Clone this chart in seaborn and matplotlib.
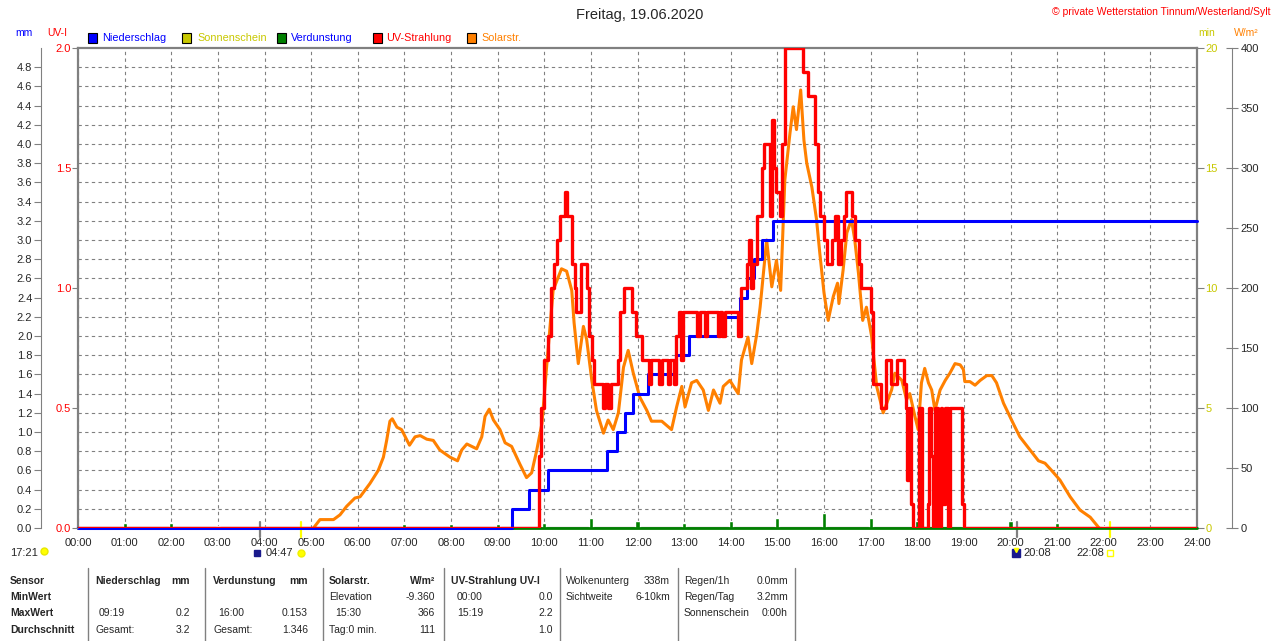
import matplotlib
matplotlib.use("Agg")
import matplotlib.pyplot as plt
import seaborn as sns
from matplotlib.patches import Rectangle
from matplotlib.lines import Line2D

# ---- data (time in hours) ----
rain_time = [0, 9.30, 9.68, 10.07, 11.34, 11.55, 11.73, 11.91, 12.22, 12.83,
             13.11, 13.85, 14.20, 14.35, 14.50, 14.68, 14.91, 24]
rain_mm = [0, 0.2, 0.4, 0.6, 0.8, 1.0, 1.2, 1.4, 1.6, 1.8,
           2.0, 2.2, 2.4, 2.6, 2.8, 3.0, 3.2, 3.2]

uv_time = [0, 9.89, 9.93, 10.00, 10.08, 10.14, 10.21, 10.27, 10.33, 10.44,
           10.49, 10.60, 10.65, 10.69, 10.78, 10.91, 10.96, 11.02, 11.07, 11.25,
           11.31, 11.36, 11.44, 11.58, 11.62, 11.70, 11.89, 11.96, 12.10, 12.24,
           12.29, 12.47, 12.52, 12.66, 12.70, 12.78, 12.82, 12.88, 12.93, 12.97,
           13.28, 13.33, 13.45, 13.50, 13.72, 13.78, 13.82, 13.87, 14.16, 14.22,
           14.34, 14.39, 14.43, 14.47, 14.56, 14.66, 14.72, 14.84, 14.88, 14.93,
           14.98, 15.05, 15.10, 15.17, 15.56, 15.66, 15.80, 15.87, 15.92, 15.99,
           16.06, 16.17, 16.24, 16.29, 16.36, 16.43, 16.48, 16.61, 16.67, 16.75,
           16.80, 17.01, 17.05, 17.22, 17.32, 17.43, 17.57, 17.72, 17.75, 17.79,
           17.83, 17.86, 17.90, 18.04, 18.11, 18.22, 18.26, 18.30, 18.34, 18.38,
           18.45, 18.50, 18.54, 18.59, 18.65, 18.70, 18.97, 19.01, 24]
uv_index = [0, 0.3, 0.5, 0.7, 0.8, 1.0, 1.1, 1.2, 1.3, 1.4,
            1.3, 1.1, 1.0, 0.9, 1.1, 1.0, 0.8, 0.7, 0.6, 0.5,
            0.6, 0.5, 0.6, 0.7, 0.9, 1.0, 0.9, 0.8, 0.7, 0.6,
            0.7, 0.6, 0.7, 0.6, 0.7, 0.6, 0.8, 0.9, 0.7, 0.9,
            0.8, 0.9, 0.8, 0.9, 0.8, 0.9, 0.8, 0.9, 0.8, 1.0,
            1.1, 1.2, 1.0, 1.1, 1.3, 1.5, 1.6, 1.3, 1.7, 1.5,
            1.4, 1.3, 1.6, 2.0, 1.9, 1.8, 1.6, 1.4, 1.3, 1.2,
            1.1, 1.2, 1.3, 1.1, 1.2, 1.3, 1.4, 1.3, 1.2, 1.1,
            1.0, 0.9, 0.6, 0.5, 0.7, 0.6, 0.7, 0.6, 0.5, 0.2,
            0.5, 0.1, 0.0, 0.5, 0.0, 0.1, 0.5, 0.3, 0.0, 0.5,
            0.0, 0.5, 0.1, 0.5, 0.0, 0.5, 0.1, 0.0, 0]

solar_time = [5.05, 5.19, 5.48, 5.62, 5.76, 5.94, 6.05, 6.26, 6.44, 6.55,
              6.62, 6.69, 6.74, 6.84, 6.94, 7.11, 7.23, 7.34, 7.48, 7.62,
              7.76, 7.98, 8.14, 8.23, 8.34, 8.55, 8.66, 8.73, 8.82, 8.91,
              9.05, 9.16, 9.30, 9.48, 9.62, 9.73, 9.84, 9.95, 10.05, 10.19,
              10.37, 10.48, 10.59, 10.64, 10.73, 10.84, 10.91, 11.02, 11.12, 11.27,
              11.37, 11.48, 11.59, 11.70, 11.80, 11.91, 12.05, 12.20, 12.30, 12.52,
              12.73, 12.84, 12.95, 13.02, 13.16, 13.27, 13.41, 13.52, 13.63, 13.77,
              13.84, 13.98, 14.16, 14.23, 14.37, 14.45, 14.56, 14.63, 14.77, 14.88,
              14.98, 15.07, 15.16, 15.27, 15.34, 15.41, 15.50, 15.57, 15.63, 15.74,
              15.84, 15.91, 16.00, 16.09, 16.20, 16.29, 16.32, 16.41, 16.49, 16.59,
              16.66, 16.74, 16.83, 16.91, 17.02, 17.13, 17.27, 17.45, 17.52, 17.67,
              17.77, 17.84, 17.95, 18.02, 18.09, 18.16, 18.24, 18.31, 18.38, 18.49,
              18.60, 18.70, 18.81, 18.92, 18.99, 19.02, 19.13, 19.24, 19.35, 19.49,
              19.60, 19.70, 19.85, 20.06, 20.20, 20.42, 20.60, 20.74, 20.88, 21.06,
              21.28, 21.49, 21.71, 21.86, 21.90]
solar_wm2 = [0, 7, 7, 11, 18, 25, 26, 37, 48, 59,
             73, 89, 91, 84, 82, 69, 76, 77, 74, 73,
             65, 59, 56, 65, 70, 66, 76, 93, 99, 90,
             82, 71, 68, 53, 42, 46, 65, 87, 134, 198,
             216, 214, 198, 171, 137, 168, 157, 123, 98, 79,
             90, 82, 96, 134, 148, 129, 109, 98, 89, 89,
             82, 101, 118, 101, 121, 123, 115, 98, 115, 104,
             118, 123, 112, 140, 159, 137, 162, 184, 240, 201,
             223, 198, 290, 329, 351, 332, 365, 323, 304, 284,
             257, 229, 196, 173, 193, 204, 187, 215, 246, 257,
             240, 212, 173, 184, 160, 118, 96, 115, 129, 123,
             107, 112, 93, 82, 121, 133, 121, 115, 98, 115,
             123, 129, 137, 136, 132, 122, 122, 119, 123, 127,
             127, 121, 104, 87, 76, 65, 56, 54, 48, 40,
             26, 15, 9, 2, 0]

evap_hour = list(range(1, 23))
evap_mm = [0.05, 0.05, 0.02, 0.01, 0.0, 0.01, 0.04, 0.04, 0.04, 0.05, 0.10,
           0.07, 0.05, 0.07, 0.10, 0.153, 0.10, 0.07, 0.07, 0.07, 0.05, 0.02]

hour_labels = [f"{h:02d}:00" for h in range(25)]
mm_ticks = [round(i * 0.2, 1) for i in range(25)]
uv_ticks = [0, 0.5, 1.0, 1.5, 2.0]
min_ticks = [0, 5, 10, 15, 20]
wm2_ticks = list(range(0, 401, 50))

sun_times = [4.78, 22.13]
moon_times = [3.90, 20.13]

W, H = 1280, 641
L, R, T, B = 78, 1197, 48, 528


def fx(px):
    return px / W


def fy(py):
    return 1 - py / H


def ay(py):
    # pixel row -> axes fraction
    return (B - py) / (B - T)


def hx(px):
    # pixel column -> hours
    return (px - L) / (R - L) * 24


sns.set_style("white")
plt.rcParams['font.family'] = ['Liberation Sans', 'DejaVu Sans']
plt.rcParams['font.size'] = 7.5

GRAY = '#808080'
BLUE = '#0000ff'
RED = '#ff0000'
ORANGE = '#ff8000'
GREEN = '#008000'
OLIVE = '#c8c800'

fig = plt.figure(figsize=(W / 100, H / 100), dpi=100)
ax = fig.add_axes([fx(L), fy(B), (R - L) / W, (B - T) / H])
ax_w = ax.twinx()
ax_mm = ax.twinx()
ax_uv = ax.twinx()
for i, a in enumerate([ax, ax_w, ax_mm, ax_uv]):
    a.set_zorder(i)

# series
sns.lineplot(x=solar_time, y=solar_wm2, ax=ax_w, color=ORANGE, lw=2.2,
             estimator=None, sort=False)
ax_mm.bar(evap_hour, evap_mm, width=0.09, color=GREEN, zorder=2)
ax_mm.axhline(0, color=GREEN, lw=2, clip_on=False, zorder=2)
sns.lineplot(x=rain_time, y=rain_mm, ax=ax_mm, color=BLUE, lw=2.2,
             drawstyle='steps-post', estimator=None, sort=False)
ax_mm.lines[-1].set_clip_on(False)
sns.lineplot(x=uv_time, y=uv_index, ax=ax_uv, color=RED, lw=2.4,
             drawstyle='steps-post', estimator=None, sort=False)

# base axes: grid, hours, minutes (Sonnenschein)
ax.set_facecolor('white')
ax.set_xlim(0, 24)
ax.set_ylim(0, 20)
ax.set_xticks(range(25))
ax.set_xticklabels(hour_labels)
ax.yaxis.tick_right()
ax.set_yticks(min_ticks)
ax.set_yticklabels([str(v) for v in min_ticks], color=OLIVE)
ax.set_yticks([i * 0.8 for i in range(26)], minor=True)
ax.tick_params(axis='y', which='minor', length=0)
ax.tick_params(axis='y', which='major', length=5, color=GRAY, pad=1, labelsize=8)
ax.tick_params(axis='x', length=4, color=GRAY, pad=3, labelsize=8)
ax.grid(axis='x', which='major', color=GRAY, ls=(0, (3, 3)), lw=0.8)
ax.grid(axis='y', which='minor', color=GRAY, ls=(0, (3, 3)), lw=0.8)
ax.grid(visible=False, axis='y', which='major')
for s in ax.spines.values():
    s.set_color(GRAY)
    s.set_linewidth(1.6)

# W/m2 axis
ax_w.set_ylim(0, 400)
ax_w.set_yticks(wm2_ticks)
ax_w.set_yticklabels([str(v) for v in wm2_ticks], color=ORANGE)
ax_w.tick_params(axis='y', direction='inout', length=8, color=GRAY, pad=2, labelsize=8)
for k in ['top', 'left', 'bottom']:
    ax_w.spines[k].set_visible(False)
ax_w.spines['right'].set_position(('axes', 1 + 35 / (R - L)))
ax_w.spines['right'].set_color(GRAY)

# mm axis
ax_mm.set_ylim(0, 5)
ax_mm.yaxis.tick_left()
ax_mm.set_yticks(mm_ticks)
ax_mm.set_yticklabels([f"{v:.1f}" for v in mm_ticks], color=BLUE)
ax_mm.tick_params(axis='y', length=5, color=GRAY, pad=1, labelsize=8)
for k in ['top', 'right', 'bottom']:
    ax_mm.spines[k].set_visible(False)
ax_mm.spines['left'].set_visible(True)
ax_mm.spines['left'].set_position(('axes', -(L - 40.7) / (R - L)))
ax_mm.spines['left'].set_color(GRAY)

# UV axis
ax_uv.set_ylim(0, 2)
ax_uv.yaxis.tick_left()
ax_uv.set_yticks(uv_ticks)
ax_uv.set_yticklabels([f"{v:.1f}" for v in uv_ticks], color=RED)
ax_uv.tick_params(axis='y', length=4, color=GRAY, pad=1, labelsize=8)
for s in ax_uv.spines.values():
    s.set_visible(False)

for a in [ax, ax_w, ax_mm, ax_uv]:
    a.set_xlabel('')
    a.set_ylabel('')
ax.set_xlim(0, 24)

# sun / moon markers under the time axis
tr = ax.get_xaxis_transform()
for t in sun_times:
    ax.plot([t, t], [ay(522), ay(537)], transform=tr, color='#ffff00', lw=1.6,
            clip_on=False, zorder=5)
for t in moon_times:
    ax.plot([t, t], [ay(522), ay(537)], transform=tr, color=GRAY, lw=1.6,
            clip_on=False, zorder=5)
yrow = ay(553)
ax.text(hx(10), yrow, '17:21', transform=tr, va='center', ha='left', fontsize=8)
ax.plot([hx(44)], [yrow + 0.004], transform=tr, marker='o', ms=5, color='#ffff00',
        mec='#e8e800', clip_on=False)
ax.plot([hx(257)], [yrow], transform=tr, marker='s', ms=5, color='#1a1a8c',
        clip_on=False)
ax.text(hx(266), yrow, '04:47', transform=tr, va='center', ha='left', fontsize=8)
ax.plot([sun_times[0]], [yrow], transform=tr, marker='o', ms=5, color='#ffff00',
        mec='#f0f000', clip_on=False)
ax.plot([hx(1016)], [yrow], transform=tr, marker='s', ms=6, color='#1a1a8c',
        clip_on=False)
ax.plot([hx(1016)], [yrow + 0.006], transform=tr, marker='v', ms=3, color='#ffff00',
        clip_on=False)
ax.text(hx(1023), yrow, '20:08', transform=tr, va='center', ha='left', fontsize=8)
ax.text(hx(1076), yrow, '22:08', transform=tr, va='center', ha='left', fontsize=8)
ax.plot([sun_times[1]], [yrow], transform=tr, marker='s', ms=4, mfc='white',
        mec='#ffff00', clip_on=False)

# header
fig.text(0.5, fy(15), 'Freitag, 19.06.2020', ha='center', va='center', fontsize=10.5)
fig.text(fx(1271), fy(12), '© private Wetterstation Tinnum/Westerland/Sylt',
         ha='right', va='center', color=RED, fontsize=7.5)
fig.text(fx(15), fy(33), 'mm', color=BLUE, va='center')
fig.text(fx(47), fy(33), 'UV-I', color=RED, va='center')
fig.text(fx(1198), fy(33), 'min', color=OLIVE, va='center')
fig.text(fx(1234), fy(33), 'W/m²', color=ORANGE, va='center')

legend_items = [(88, 102, 'Niederschlag', BLUE, BLUE),
                (182, 197, 'Sonnenschein', OLIVE, OLIVE),
                (277, 291, 'Verdunstung', GREEN, BLUE),
                (373, 386, 'UV-Strahlung', RED, RED),
                (467, 481, 'Solarstr.', ORANGE, ORANGE)]
for bx, tx, label, fc, tc in legend_items:
    fig.add_artist(Rectangle((fx(bx), fy(43)), 9 / W, 10 / H, transform=fig.transFigure,
                             facecolor=fc, edgecolor='black', lw=0.8))
    fig.text(fx(tx), fy(38), label, color=tc, va='center', fontsize=7.8)

# summary table
for x in [88, 205, 323, 444, 560, 678, 795]:
    fig.add_artist(Line2D([fx(x), fx(x)], [fy(568), fy(641)], transform=fig.transFigure,
                          color=GRAY, lw=1))
rows = [581, 597, 613, 630]
table_cells = [
    (10, 0, 'Sensor', 'left', True), (10, 1, 'MinWert', 'left', True),
    (10, 2, 'MaxWert', 'left', True), (10, 3, 'Durchschnitt', 'left', True),
    (95, 0, 'Niederschlag', 'left', True), (190, 0, 'mm', 'right', True),
    (99, 2, '09:19', 'left', False), (190, 2, '0.2', 'right', False),
    (95, 3, 'Gesamt:', 'left', False), (190, 3, '3.2', 'right', False),
    (213, 0, 'Verdunstung', 'left', True), (308, 0, 'mm', 'right', True),
    (218, 2, '16:00', 'left', False), (308, 2, '0.153', 'right', False),
    (213, 3, 'Gesamt:', 'left', False), (308, 3, '1.346', 'right', False),
    (329, 0, 'Solarstr.', 'left', True), (435, 0, 'W/m²', 'right', True),
    (329, 1, 'Elevation', 'left', False), (435, 1, '-9.360', 'right', False),
    (335, 2, '15:30', 'left', False), (435, 2, '366', 'right', False),
    (329, 3, 'Tag:0 min.', 'left', False), (435, 3, '111', 'right', False),
    (451, 0, 'UV-Strahlung UV-I', 'left', True),
    (457, 1, '00:00', 'left', False), (553, 1, '0.0', 'right', False),
    (457, 2, '15:19', 'left', False), (553, 2, '2.2', 'right', False),
    (553, 3, '1.0', 'right', False),
    (566, 0, 'Wolkenunterg', 'left', False), (670, 0, '338m', 'right', False),
    (566, 1, 'Sichtweite', 'left', False), (670, 1, '6-10km', 'right', False),
    (684, 0, 'Regen/1h', 'left', False), (788, 0, '0.0mm', 'right', False),
    (684, 1, 'Regen/Tag', 'left', False), (788, 1, '3.2mm', 'right', False),
    (684, 2, 'Sonnenschein', 'left', False), (788, 2, '0:00h', 'right', False),
]
for x, r, txt, ha, bold in table_cells:
    fig.text(fx(x), fy(rows[r]), txt, ha=ha, va='center',
             fontweight='bold' if bold else 'normal')

fig.savefig('out.png', dpi=100)
